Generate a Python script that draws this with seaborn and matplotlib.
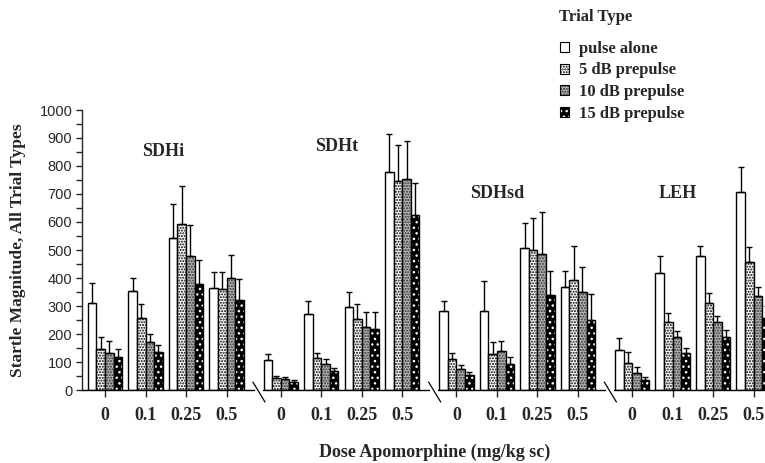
import numpy as np
import pandas as pd
import matplotlib
matplotlib.use("Agg")
import matplotlib.pyplot as plt
import matplotlib.transforms as mtransforms
from matplotlib.patches import Patch
import seaborn as sns

# ---------------- data ----------------
groups = ["SDHi", "SDHt", "SDHsd", "LEH"]
doses = ["0", "0.1", "0.25", "0.5"]
trial_types = ["pulse alone", "5 dB prepulse", "10 dB prepulse", "15 dB prepulse"]

# mean values, per group: rows = dose, cols = trial type
means_sdhi = [[310, 145, 131, 117],
              [355, 256, 170, 137],
              [543, 594, 479, 377],
              [365, 360, 400, 322]]
means_sdht = [[107, 42, 39, 27],
              [271, 113, 92, 68],
              [296, 252, 224, 218],
              [780, 746, 755, 626]]
means_sdhsd = [[282, 110, 74, 54],
               [282, 127, 138, 93],
               [508, 499, 485, 339],
               [369, 394, 350, 250]]
means_leh = [[143, 98, 60, 36],
             [418, 244, 188, 131],
             [479, 310, 244, 189],
             [706, 458, 335, 256]]

# top of error bar (mean + SEM)
err_sdhi = [[381, 190, 176, 146],
            [399, 306, 200, 161],
            [663, 727, 588, 464],
            [420, 420, 483, 395]]
err_sdht = [[127, 51, 48, 36],
            [317, 133, 110, 77],
            [351, 307, 277, 277],
            [914, 874, 889, 740]]
err_sdhsd = [[317, 133, 88, 63],
             [390, 170, 174, 119],
             [598, 613, 636, 424],
             [424, 515, 438, 343]]
err_leh = [[185, 137, 81, 45],
           [480, 274, 211, 150],
           [514, 345, 264, 214],
           [798, 510, 369, 300]]

all_means = [means_sdhi, means_sdht, means_sdhsd, means_leh]
all_errs = [err_sdhi, err_sdht, err_sdhsd, err_leh]

# ---------------- layout ----------------
group_step = 4.34
rows = []
for gi, g in enumerate(groups):
    for di, d in enumerate(doses):
        for ti, t in enumerate(trial_types):
            rows.append(dict(group=g, dose=d, trial=t,
                             pos=gi * group_step + di,
                             value=all_means[gi][di][ti],
                             top=all_errs[gi][di][ti]))
df = pd.DataFrame(rows)

sns.set_style("ticks")
plt.rcParams["hatch.linewidth"] = 1.0

fig = plt.figure(figsize=(7.65, 4.63), dpi=100)
ax = fig.add_axes([82 / 765, 1 - 390 / 463, (765 - 82) / 765, 280 / 463])

sns.barplot(data=df, x="pos", y="value", hue="trial", hue_order=trial_types,
            native_scale=True, orient="x", width=0.85, errorbar=None,
            palette=["white"] * 4, legend=False, ax=ax, saturation=1,
            edgecolor="black", linewidth=1.0)

styles = [
    dict(face="white", hatch=None, hcol="black"),
    dict(face="white", hatch="......", hcol="black"),
    dict(face="#b4b4b4", hatch="......", hcol="#303030"),
    dict(face="black", hatch="...", hcol="white"),
]

bars = sorted([p for p in ax.patches], key=lambda p: p.get_x())
df_sorted = df.sort_values(["pos"], kind="stable").reset_index(drop=True)
xs, ys, tops = [], [], []
for i, p in enumerate(bars):
    st = styles[i % 4]
    p.set_facecolor(st["face"])
    p.set_edgecolor("black")
    p.set_linewidth(1.0)
    if st["hatch"]:
        p.set_hatch(st["hatch"])
        p._hatch_color = matplotlib.colors.to_rgba(st["hcol"])
    xs.append(p.get_x() + p.get_width() / 2)
    ys.append(p.get_height())
    tops.append(df_sorted.loc[i, "top"])
xs = np.array(xs); ys = np.array(ys); tops = np.array(tops)
ax.errorbar(xs, ys, yerr=[np.zeros_like(ys), tops - ys], fmt="none",
            ecolor="black", elinewidth=1.0, capsize=2.5, capthick=1.0, zorder=1)

# ---------------- axes ----------------
xmin, xmax = -0.57, 16.3
ax.set_xlim(xmin, xmax)
ax.set_ylim(0, 1000)
ax.set_yticks(np.arange(0, 1001, 100))
ax.set_yticks(np.arange(50, 1000, 100), minor=True)
ax.tick_params(axis="y", which="both", direction="out", length=4, width=1,
               labelsize=10.5, pad=3)
for lab in ax.get_yticklabels():
    lab.set_fontfamily("Liberation Sans")

tick_pos = [gi * group_step + di for gi in range(len(groups)) for di in range(len(doses))]
ax.set_xticks(tick_pos)
ax.set_xticklabels(doses * len(groups), fontfamily="Liberation Serif",
                   fontweight="bold", fontsize=13)
ax.tick_params(axis="x", direction="out", length=5, width=1, pad=7)

ax.spines["top"].set_visible(False)
ax.spines["right"].set_visible(False)
ax.spines["bottom"].set_visible(False)
ax.spines["left"].set_linewidth(1.0)
ax.set_xlabel("")
ax.set_ylabel("Startle Magnitude, All Trial Types", fontfamily="Liberation Serif",
              fontweight="bold", fontsize=12.5, labelpad=10)

# broken x axis
breaks = [(gi + 1) * group_step - 0.57 for gi in range(len(groups) - 1)]
trans = mtransforms.blended_transform_factory(ax.transData, ax.transAxes)
seg_edges = [xmin] + [v for b in breaks for v in (b - 0.1, b + 0.12)] + [xmax]
for a, b in zip(seg_edges[::2], seg_edges[1::2]):
    ax.plot([a, b], [0, 0], color="black", lw=1.0, transform=trans, clip_on=False)
for b in breaks:
    ax.plot([b - 0.12, b + 0.18], [8 / 280, -12 / 280], color="black", lw=0.9,
            transform=trans, clip_on=False)

fig.text(435 / 765, 1 - 452 / 463, "Dose Apomorphine (mg/kg sc)", ha="center",
         va="center", fontfamily="Liberation Serif", fontweight="bold", fontsize=13)

# group labels
label_pos = [(1.43, 852), (5.73, 870), (9.68, 700), (14.15, 703)]
for g, (lx, ly) in zip(groups, label_pos):
    ax.text(lx, ly, g, ha="center", va="center", fontfamily="Liberation Serif",
            fontweight="bold", fontsize=13)

# legend
handles = []
for st, t in zip(styles, trial_types):
    h = Patch(facecolor=st["face"], edgecolor="black", hatch=st["hatch"], linewidth=0.8, label=t)
    if st["hatch"]:
        h._hatch_color = matplotlib.colors.to_rgba(st["hcol"])
    handles.append(h)
fig.text(559 / 765, 1 - 17 / 463, "Trial Type", ha="left", va="center",
         fontfamily="Liberation Serif", fontweight="bold", fontsize=12)
leg = fig.legend(handles=handles, loc="upper left",
                 bbox_to_anchor=(553 / 765, 1 - 34 / 463), frameon=False,
                 prop=dict(family="Liberation Serif", weight="bold", size=12),
                 handlelength=0.55, handleheight=0.55, handletextpad=0.6,
                 labelspacing=0.35, borderaxespad=0)

fig.savefig("out.png", dpi=100)
